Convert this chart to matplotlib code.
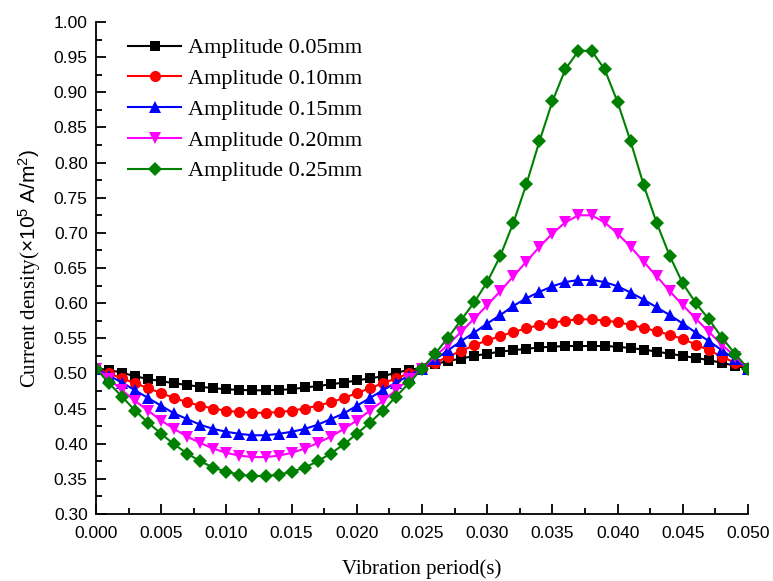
import numpy as np
import matplotlib
matplotlib.use('Agg')
import matplotlib.pyplot as plt
from matplotlib.ticker import MultipleLocator, FormatStrFormatter

t = np.linspace(0, 0.05, 51)

amp_005 = [0.507, 0.505, 0.501, 0.496, 0.492, 0.489, 0.486, 0.4835, 0.481, 0.479, 0.4775, 0.4765, 0.476,
           0.476, 0.4765, 0.4775, 0.480, 0.482, 0.4845, 0.487, 0.490, 0.493, 0.496, 0.501, 0.505, 0.508,
           0.513, 0.518, 0.521, 0.525, 0.528, 0.531, 0.533, 0.535, 0.537, 0.538, 0.539, 0.539, 0.539,
           0.539, 0.538, 0.536, 0.534, 0.531, 0.528, 0.525, 0.522, 0.519, 0.515, 0.511, 0.507]
amp_010 = [0.507, 0.500, 0.493, 0.486, 0.479, 0.472, 0.465, 0.459, 0.454, 0.450, 0.447, 0.445, 0.444,
           0.444, 0.445, 0.447, 0.450, 0.454, 0.459, 0.465, 0.472, 0.479, 0.486, 0.493, 0.500, 0.507,
           0.515, 0.524, 0.532, 0.540, 0.547, 0.553, 0.559, 0.564, 0.569, 0.572, 0.575, 0.577, 0.577,
           0.575, 0.573, 0.569, 0.565, 0.560, 0.555, 0.549, 0.541, 0.533, 0.524, 0.515, 0.507]
amp_015 = [0.507, 0.497, 0.487, 0.476, 0.465, 0.454, 0.443, 0.435, 0.427, 0.421, 0.417, 0.414, 0.412,
           0.412, 0.414, 0.417, 0.421, 0.427, 0.435, 0.443, 0.454, 0.465, 0.476, 0.487, 0.497, 0.507,
           0.520, 0.533, 0.546, 0.558, 0.571, 0.583, 0.596, 0.607, 0.616, 0.624, 0.630, 0.633, 0.633,
           0.630, 0.624, 0.615, 0.605, 0.594, 0.583, 0.571, 0.558, 0.546, 0.533, 0.520, 0.507]
amp_020 = [0.507, 0.492, 0.476, 0.461, 0.447, 0.433, 0.421, 0.410, 0.401, 0.393, 0.387, 0.383, 0.381,
           0.381, 0.383, 0.387, 0.393, 0.401, 0.410, 0.421, 0.433, 0.447, 0.461, 0.476, 0.492, 0.507,
           0.524, 0.541, 0.559, 0.578, 0.597, 0.617, 0.638, 0.659, 0.680, 0.699, 0.715, 0.725, 0.725,
           0.715, 0.699, 0.680, 0.659, 0.638, 0.617, 0.597, 0.578, 0.559, 0.541, 0.524, 0.507]
amp_025 = [0.507, 0.486, 0.467, 0.447, 0.430, 0.414, 0.399, 0.386, 0.375, 0.366, 0.360, 0.356, 0.354,
           0.354, 0.356, 0.360, 0.366, 0.375, 0.386, 0.399, 0.414, 0.430, 0.447, 0.467, 0.486, 0.507,
           0.528, 0.551, 0.576, 0.601, 0.630, 0.667, 0.714, 0.769, 0.830, 0.887, 0.933, 0.959, 0.959,
           0.933, 0.886, 0.830, 0.768, 0.714, 0.667, 0.628, 0.600, 0.577, 0.551, 0.528, 0.507]

labels = ['Amplitude 0.05mm', 'Amplitude 0.10mm', 'Amplitude 0.15mm',
          'Amplitude 0.20mm', 'Amplitude 0.25mm']
series = [amp_005, amp_010, amp_015, amp_020, amp_025]
colors = ['#000000', '#FF0000', '#0000FF', '#FF00FF', '#008000']
markers = ['s', 'o', '^', 'v', 'D']
msizes = [7, 8, 8.5, 8.5, 7]

plt.rcParams['mathtext.fontset'] = 'custom'
plt.rcParams['mathtext.rm'] = 'Liberation Serif'
plt.rcParams['mathtext.sf'] = 'Liberation Sans'
plt.rcParams['mathtext.it'] = 'Liberation Serif:italic'

fig = plt.figure(figsize=(7.73, 5.81), dpi=100)
ax = fig.add_axes([96/773, 67/581, 652/773, 492/581])

for y, c, m, ms, lab in zip(series, colors, markers, msizes, labels):
    ax.plot(t, y, color=c, marker=m, markersize=ms, linewidth=1.5,
            markeredgewidth=0, label=lab)

ax.set_xlim(0, 0.05)
ax.set_ylim(0.30, 1.00)
ax.xaxis.set_major_locator(MultipleLocator(0.005))
ax.xaxis.set_minor_locator(MultipleLocator(0.0025))
ax.yaxis.set_major_locator(MultipleLocator(0.05))
ax.yaxis.set_minor_locator(MultipleLocator(0.025))
ax.xaxis.set_major_formatter(FormatStrFormatter('%.3f'))
ax.yaxis.set_major_formatter(FormatStrFormatter('%.2f'))

for s in ['top', 'right']:
    ax.spines[s].set_visible(False)
for s in ['left', 'bottom']:
    ax.spines[s].set_linewidth(1.3)

ax.tick_params(which='major', direction='in', length=7.5, width=1.3,
               labelsize=12.5)
ax.tick_params(axis='x', which='major', pad=9)
ax.tick_params(axis='y', which='major', pad=6)
ax.tick_params(which='minor', direction='in', length=4, width=1.3)
for lab in ax.get_xticklabels() + ax.get_yticklabels():
    lab.set_fontfamily('Liberation Sans')

ax.set_xlabel('Vibration period(s)', fontfamily='Liberation Serif', fontsize=15, labelpad=13)
ax.set_ylabel('Current density($\\mathsf{\\times10^{5}\\ A/m^{2})}$', fontfamily='Liberation Serif',
              fontsize=15, labelpad=8)

leg = ax.legend(loc='upper left', bbox_to_anchor=(0.049, 0.968), frameon=False,
                prop={'family': 'Liberation Serif', 'size': 16}, numpoints=1,
                handlelength=2.4, handletextpad=0.3, labelspacing=0.46,
                borderpad=0, borderaxespad=0)

fig.savefig('out.png', dpi=100)
